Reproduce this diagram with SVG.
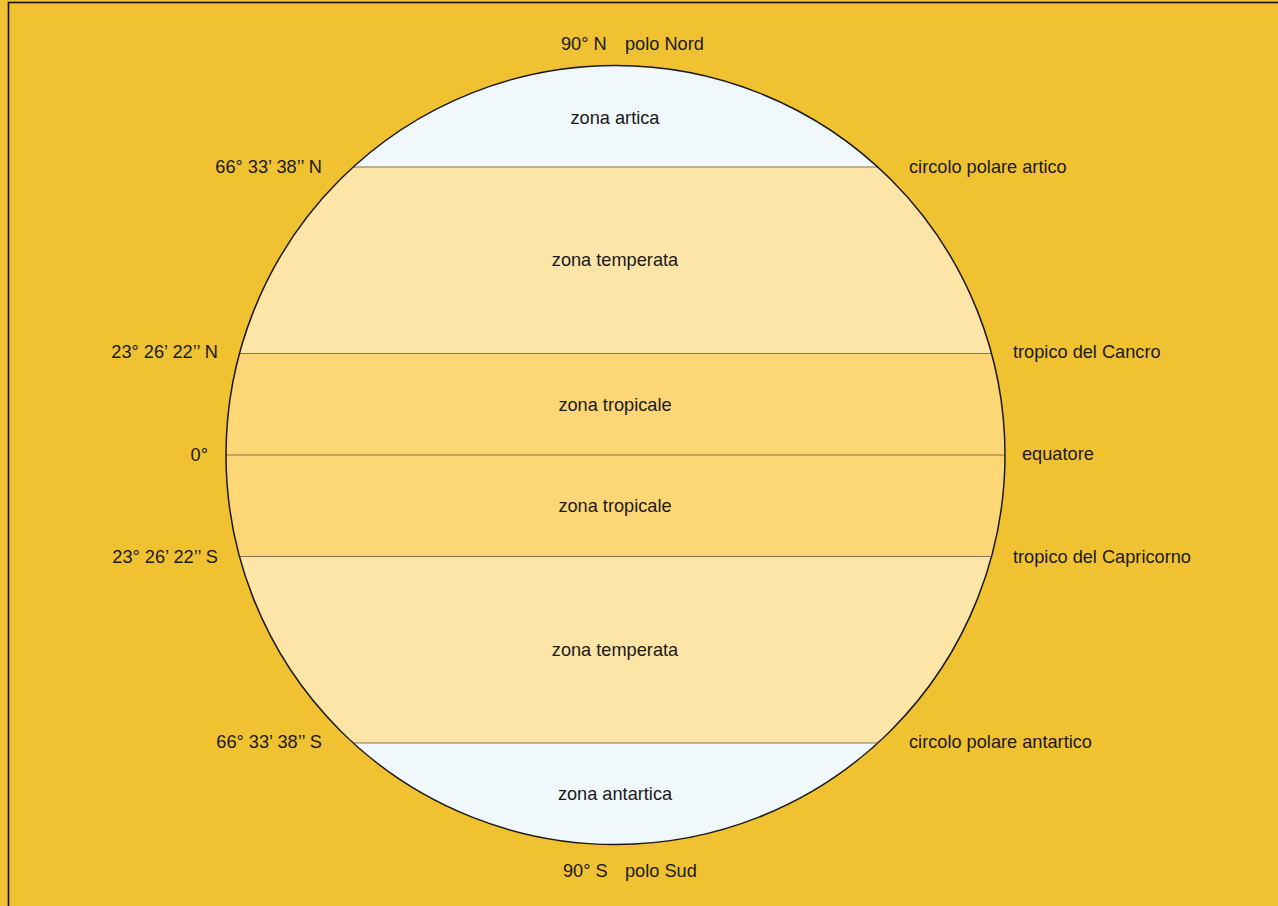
<svg xmlns="http://www.w3.org/2000/svg" width="1278" height="906" viewBox="0 0 1278 906">
<style>
text{font-family:"Liberation Sans",Arial,sans-serif;font-size:18.2px;fill:#1a1a1a}
.m{text-anchor:middle}
.e{text-anchor:end}
.pol{fill:#f0f8fc}
.tem{fill:#fde5a8}
.tro{fill:#fdd676}
.ln{stroke:#8a7446;stroke-width:1.2;fill:none}
</style>
<defs>
<clipPath id="globe"><circle cx="615.5" cy="455" r="389.5"/></clipPath>
</defs>
<rect x="0" y="0" width="1278" height="906" fill="#f0c232"/>
<rect x="8.5" y="2.5" width="1300" height="920" fill="none" stroke="#111" stroke-width="1.6"/>
<g clip-path="url(#globe)">
<g id="zona-artica"><rect class="pol" x="220" y="60" width="800" height="107"/><text class="m" x="615" y="124">zona artica</text></g>
<g id="zona-temperata-n"><rect class="tem" x="220" y="167" width="800" height="186.5"/><text class="m" x="615" y="266">zona temperata</text></g>
<g id="zona-tropicale-n"><rect class="tro" x="220" y="353.5" width="800" height="101.5"/><text class="m" x="615" y="411">zona tropicale</text></g>
<g id="zona-tropicale-s"><rect class="tro" x="220" y="455" width="800" height="101.5"/><text class="m" x="615" y="512">zona tropicale</text></g>
<g id="zona-temperata-s"><rect class="tem" x="220" y="556.5" width="800" height="186.5"/><text class="m" x="615" y="656">zona temperata</text></g>
<g id="zona-antartica"><rect class="pol" x="220" y="743" width="800" height="110"/><text class="m" x="615" y="800">zona antartica</text></g>
</g>
<g id="paralleli">
<line class="ln" x1="220" y1="167" x2="1010" y2="167" clip-path="url(#globe)"/>
<line class="ln" x1="220" y1="353.5" x2="1010" y2="353.5" clip-path="url(#globe)"/>
<line class="ln" x1="220" y1="455" x2="1010" y2="455" clip-path="url(#globe)"/>
<line class="ln" x1="220" y1="556.5" x2="1010" y2="556.5" clip-path="url(#globe)"/>
<line class="ln" x1="220" y1="743" x2="1010" y2="743" clip-path="url(#globe)"/>
</g>
<g id="globo"><circle cx="615.5" cy="455" r="389.5" fill="none" stroke="#1a1a1a" stroke-width="1.5"/></g>
<g id="etichette">
<text x="561" y="50">90° N</text>
<text x="625" y="50">polo Nord</text>
<text class="e" x="322" y="173">66° 33’ 38’’ N</text>
<text x="909" y="173">circolo polare artico</text>
<text class="e" x="218" y="358">23° 26’ 22’’ N</text>
<text x="1013" y="358">tropico del Cancro</text>
<text class="e" x="208" y="461">0°</text>
<text x="1022" y="460">equatore</text>
<text class="e" x="218" y="563">23° 26’ 22’’ S</text>
<text x="1013" y="563">tropico del Capricorno</text>
<text class="e" x="322" y="748">66° 33’ 38’’ S</text>
<text x="909" y="748">circolo polare antartico</text>
<text x="563" y="877">90° S</text>
<text x="625" y="877">polo Sud</text>
</g>
</svg>
